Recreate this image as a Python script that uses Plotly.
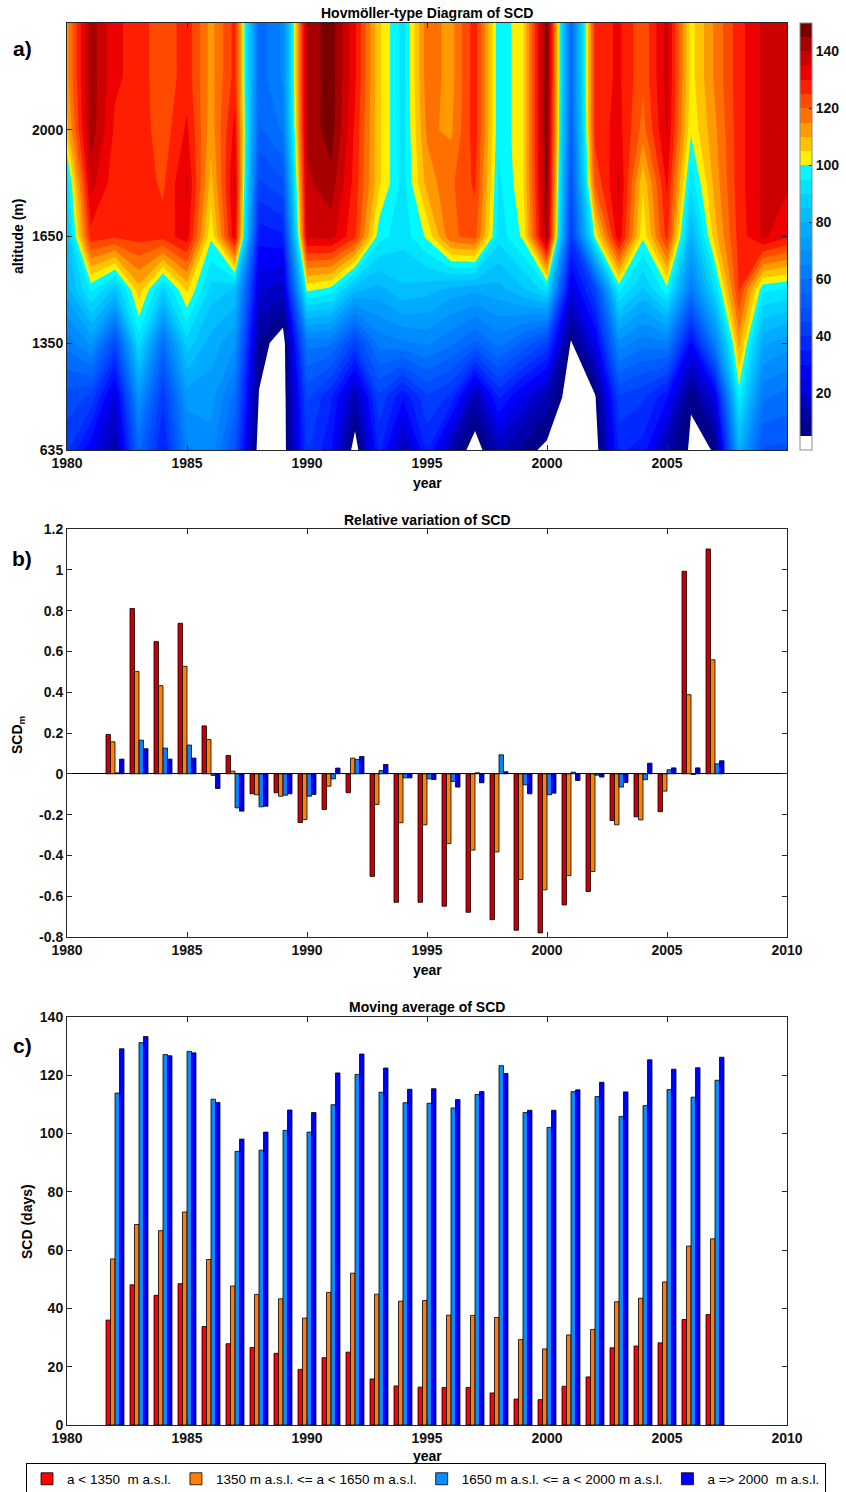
import plotly.graph_objects as go

FONT = "Liberation Sans, Arial, Helvetica, sans-serif"
INK = "#262626"
W, H = 846, 1492

# ---------------- Panel a: yearly SCD (days) on the altitude grid ----------------
years_grid = list(range(1980, 2011))
grid_rows = [0, 0.5, 1, 1.5, 2, 2.5, 3, 3.5, 4]          # row 0 = 635 m ... row 4 = top level
alt_tick_pos = [0, 1, 2, 3]
alt_tick_text = ["635", "1350", "1650", "2000"]

scd_row0 = [41, 26, 12, 56, 34, 64, 68, 49, 0, 0, 41, 31, 0, 36, 14, 36, 14, 0, 16, 8, 3, 0, 0, 36, 33, 12, 4, 5.2, 79, 49, 49]
scd_row1 = [48, 44, 21, 71, 41, 72, 72, 58, 4.4, 0, 46, 36, 14, 44, 31, 44, 39, 14, 36, 24, 14, 0, 4, 44, 41, 31, 5.5, 24, 97, 61, 58]
scd_row2 = [62, 71, 46, 92, 58, 88, 78, 71, 9, 0, 62, 61, 44, 62, 64, 66, 61, 54, 62, 54, 44, 4, 24, 68, 62, 64, 28, 64, 112, 76, 72]
scd_row3 = [78, 96, 84, 108, 88, 106, 88, 84, 21, 17, 101, 98, 81, 78, 84, 82, 78, 76, 78, 84, 92, 22, 44, 96, 84, 98, 61, 91, 125.5, 96, 94]
scd_row4 = [84, 128, 126, 127, 127, 133, 101, 134, 32, 34, 136, 137, 126, 97, 92, 101, 119, 122, 92, 101, 143, 41, 101, 134, 101, 127, 79, 108, 127, 136, 131]
scd_row5 = [91, 137, 127, 128, 124, 136, 108, 136, 44, 49, 139, 143, 128, 106, 93, 112, 119, 126, 94, 104, 146, 48, 121, 136, 106, 131, 92, 112, 128, 136, 136]
scd_row6 = [108, 143, 129, 128, 122, 131, 112, 132, 54, 61, 141, 148, 129, 106, 93, 116, 114, 128, 96, 104, 147, 53, 127, 132, 118, 136, 101, 114, 128, 136, 136]
scd_row7 = [113, 143, 131, 128, 121, 128, 113, 127, 57, 66, 141, 148, 131, 106, 93, 118, 113, 128, 96, 104, 147, 56, 127, 131, 121, 137, 103, 116, 128, 136, 136]
scd_row8 = [113, 143, 131, 128, 121, 128, 113, 127, 57, 66, 141, 148, 131, 106, 93, 118, 113, 128, 96, 104, 147, 56, 127, 131, 121, 137, 103, 116, 128, 136, 136]
scd_grid = [scd_row0, scd_row1, scd_row2, scd_row3, scd_row4, scd_row5, scd_row6, scd_row7, scd_row8]

# colour of each 5-day band, keyed by the band centre (days)
band_centres = [7.5, 12.5, 17.5, 22.5, 27.5, 32.5, 37.5, 42.5, 47.5, 52.5, 57.5, 62.5, 67.5,
                72.5, 77.5, 82.5, 87.5, 92.5, 97.5, 102.5, 107.5, 112.5, 117.5, 122.5, 127.5,
                132.5, 137.5, 142.5, 147.5]
band_colours = ["#00008C", "#0000A8", "#0000C4", "#0000E0", "#0000FA", "#0014FF", "#0028FF",
                "#003CFF", "#004CFF", "#005CFF", "#006CFF", "#007CFF", "#008CFF", "#009CFF",
                "#00ACFF", "#00BEFF", "#00D0FF", "#00E4FF", "#00FAFF", "#FFF000", "#FFC400",
                "#FF9A00", "#FF7000", "#FF4A00", "#FF1E00", "#EE0000", "#CC0000", "#A60000",
                "#7A0000"]
LEVEL_START, LEVEL_END, LEVEL_STEP = 5, 145, 5
span = LEVEL_END - LEVEL_START + LEVEL_STEP
colorscale = [[0.0, "#FFFFFF"], [0.02, "#FFFFFF"]]
for v, c in zip(band_centres, band_colours):
    colorscale.append([(v - LEVEL_START + LEVEL_STEP / 2) / span, c])

# ---------------- Panels b and c: altitude bands ----------------
years_bars = list(range(1982, 2008))
band_names = ["a &lt; 1350\u00a0 m a.s.l.",
              "1350 m a.s.l. &lt;= a &lt; 1650 m a.s.l.",
              "1650 m a.s.l. &lt;= a &lt; 2000 m a.s.l.",
              "a =&gt; 2000\u00a0 m a.s.l."]

rel_below_1350 = [0.193, 0.81, 0.648, 0.738, 0.235, 0.09, -0.098, -0.093, -0.239, -0.175, -0.093, -0.503, -0.63,
                  -0.63, -0.649, -0.679, -0.715, -0.767, -0.78, -0.643, -0.577, -0.229, -0.211, -0.186, 0.993, 1.102]
rel_1350_1650 = [0.157, 0.502, 0.432, 0.527, 0.168, 0.013, -0.103, -0.110, -0.224, -0.061, 0.077, -0.150, -0.24,
                 -0.25, -0.342, -0.374, -0.383, -0.518, -0.569, -0.499, -0.479, -0.250, -0.226, -0.085, 0.388, 0.559]
rel_1650_2000 = [0.005, 0.165, 0.126, 0.141, -0.008, -0.167, -0.162, -0.105, -0.110, -0.025, 0.070, 0.016, -0.02,
                 -0.025, -0.038, 0.005, 0.093, -0.054, -0.103, 0.008, -0.007, -0.065, -0.029, 0.020, -0.003, 0.049]
rel_above_2000 = [0.072, 0.123, 0.072, 0.077, -0.072, -0.183, -0.159, -0.098, -0.101, 0.028, 0.085, 0.046, -0.02,
                  -0.028, -0.065, -0.044, 0.010, -0.098, -0.095, -0.033, -0.016, -0.043, 0.052, 0.029, 0.029, 0.064]

ma_below_1350 = [36.0, 48.1, 44.5, 48.5, 33.8, 27.9, 26.6, 24.6, 19.1, 23.1, 25.0, 15.8, 13.4,
                 13.0, 12.9, 12.9, 11.0, 8.9, 8.7, 13.3, 16.5, 26.5, 27.1, 28.2, 36.2, 37.9]
ma_1350_1650 = [57.0, 68.8, 66.7, 73.1, 56.8, 47.7, 44.8, 43.3, 36.7, 45.5, 52.1, 44.9, 42.5,
                42.7, 37.7, 37.6, 36.9, 29.3, 26.1, 30.9, 32.8, 42.3, 43.5, 49.1, 61.4, 63.9]
ma_1650_2000 = [113.9, 131.2, 127.1, 128.2, 111.8, 93.9, 94.3, 101.1, 100.5, 109.9, 120.3, 114.2, 110.6,
                110.4, 108.8, 113.4, 123.3, 107.2, 102.1, 114.4, 112.7, 105.9, 109.6, 115.1, 112.5, 118.3]
ma_above_2000 = [129.1, 133.3, 126.7, 127.7, 110.7, 98.1, 100.5, 108.1, 107.2, 120.8, 127.3, 122.5, 115.2,
                 115.4, 111.7, 114.4, 120.6, 108.0, 108.0, 115.0, 117.6, 114.3, 125.3, 122.1, 122.6, 126.2]

rel_colours = ["#C80000", "#FF8000", "#0A80FF", "#0000E6"]
ma_colours = ["#FF0000", "#FF8000", "#0A8CFF", "#0000FF"]

# ---------------- geometry (pixels -> paper fractions) ----------------
X0, X1 = 67 / W, 787 / W


def ydom(top, bottom):
    return [1 - bottom / H, 1 - top / H]


A_TOP, A_BOT = 23, 450
B_TOP, B_BOT = 529, 937
C_TOP, C_BOT = 1017, 1425

tick_font = dict(family=FONT, size=14, color="#111111", weight="bold")
title_font = dict(family=FONT, size=14, color="#000000", weight="bold")

fig = go.Figure()

fig.add_trace(go.Contour(
    x=years_grid, y=grid_rows, z=scd_grid,
    xaxis="x", yaxis="y",
    autocontour=False,
    contours=dict(start=LEVEL_START, end=LEVEL_END, size=LEVEL_STEP, coloring="fill", showlines=False),
    line=dict(width=0, smoothing=0),
    colorscale=colorscale, zmin=0, zmax=150,
    hoverinfo="skip",
    colorbar=dict(
        x=800 / W, xanchor="left", xpad=0,
        y=1 - A_TOP / H, yanchor="top", ypad=0,
        len=(A_BOT - A_TOP) / H, lenmode="fraction",
        thickness=12, thicknessmode="pixels",
        outlinewidth=1, outlinecolor="#8c8c8c",
        tickvals=[20, 40, 60, 80, 100, 120, 140],
        ticks="inside", ticklen=3, tickcolor=INK,
        tickfont=tick_font,
    ),
))

rel_series = [rel_below_1350, rel_1350_1650, rel_1650_2000, rel_above_2000]
for name, vals, col in zip(band_names, rel_series, rel_colours):
    fig.add_trace(go.Bar(
        x=years_bars, y=vals, name=name, xaxis="x2", yaxis="y2", showlegend=False,
        marker=dict(color=col, line=dict(color="#000000", width=0.8)),
    ))

ma_series = [ma_below_1350, ma_1350_1650, ma_1650_2000, ma_above_2000]
for name, vals, col in zip(band_names, ma_series, ma_colours):
    fig.add_trace(go.Bar(
        x=years_bars, y=vals, name=name, xaxis="x3", yaxis="y3",
        marker=dict(color=col, line=dict(color="#000000", width=0.8)),
    ))

common_axis = dict(
    showline=True, linecolor=INK, linewidth=1, mirror="ticks",
    ticks="inside", ticklen=5, tickcolor=INK, tickwidth=1,
    showgrid=False, zeroline=False, tickfont=tick_font, automargin=False,
)

year_ticks = [1980, 1985, 1990, 1995, 2000, 2005, 2010]

fig.update_layout(
    width=W, height=H,
    margin=dict(l=0, r=0, t=0, b=0, autoexpand=False),
    paper_bgcolor="#FFFFFF", plot_bgcolor="#FFFFFF",
    font=dict(family=FONT, color="#000000"),
    barmode="group", bargap=0.25, bargroupgap=0,
    xaxis=dict(domain=[X0, X1], anchor="y", range=[1980, 2010],
               tickvals=year_ticks[:-1], **common_axis),
    yaxis=dict(domain=ydom(A_TOP, A_BOT), anchor="x", range=[0, 4],
               tickvals=alt_tick_pos, ticktext=alt_tick_text, **common_axis),
    xaxis2=dict(domain=[X0, X1], anchor="y2", range=[1980, 2010],
                tickvals=year_ticks, **common_axis),
    yaxis2=dict(domain=ydom(B_TOP, B_BOT), anchor="x2", range=[-0.8, 1.2],
                tickvals=[-0.8, -0.6, -0.4, -0.2, 0, 0.2, 0.4, 0.6, 0.8, 1.0, 1.2],
                ticktext=["-0.8", "-0.6", "-0.4", "-0.2", "0", "0.2", "0.4", "0.6", "0.8", "1", "1.2"],
                **{**common_axis, "zeroline": True}, zerolinecolor="#000000", zerolinewidth=1),
    xaxis3=dict(domain=[X0, X1], anchor="y3", range=[1980, 2010],
                tickvals=year_ticks, **common_axis),
    yaxis3=dict(domain=ydom(C_TOP, C_BOT), anchor="x3", range=[0, 140],
                tickvals=[0, 20, 40, 60, 80, 100, 120, 140], **common_axis),
    legend=dict(
        orientation="h", x=426 / W, xanchor="center", y=1 - 1479 / H, yanchor="middle",
        bordercolor="#000000", borderwidth=1, bgcolor="#FFFFFF",
        font=dict(family=FONT, size=13.5, color="#000000"),
        itemwidth=30, tracegroupgap=0,
    ),
)

cx = (X0 + X1) / 2
annotations = [
    # panel titles
    dict(text="Hovmöller-type Diagram of SCD", x=cx, y=1 - 13 / H),
    dict(text="Relative variation of SCD", x=cx, y=1 - 520 / H),
    dict(text="Moving average of SCD", x=cx, y=1 - 1007 / H),
    # x-axis titles
    dict(text="year", x=cx, y=1 - 483 / H),
    dict(text="year", x=cx, y=1 - 970 / H),
    dict(text="year", x=cx, y=1 - 1456 / H),
    # y-axis titles
    dict(text="altitude (m)", x=18 / W, y=1 - 237 / H, textangle=-90),
    dict(text="SCD<sub>m</sub>", x=18 / W, y=1 - 735 / H, textangle=-90),
    dict(text="SCD (days)", x=27 / W, y=1 - 1221 / H, textangle=-90),
]
for a in annotations:
    a.update(xref="paper", yref="paper", showarrow=False, font=title_font,
             xanchor="center", yanchor="middle")

for letter, ypix in [("a)", 48), ("b)", 558), ("c)", 1045)]:
    annotations.append(dict(text=letter, x=22 / W, y=1 - ypix / H, xref="paper", yref="paper",
                            showarrow=False, xanchor="center", yanchor="middle",
                            font=dict(family=FONT, size=21, color="#000000", weight="bold")))

fig.update_layout(annotations=annotations)

fig.write_html("out.html")
